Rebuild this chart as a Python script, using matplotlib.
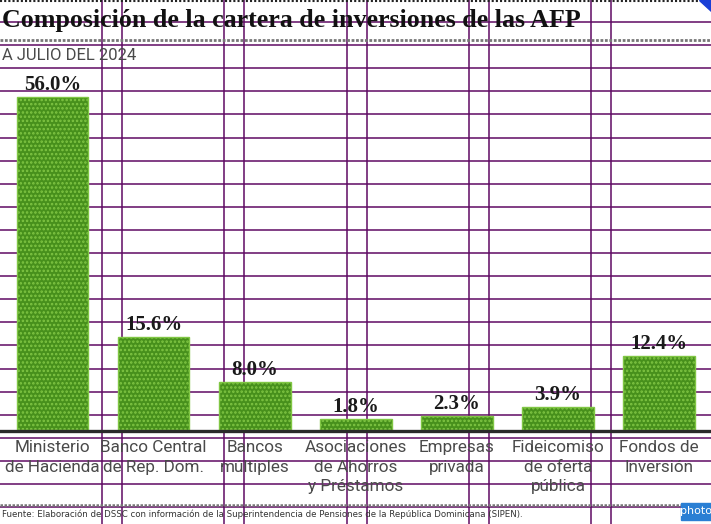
import numpy as np
import matplotlib
matplotlib.use("Agg")
import matplotlib.pyplot as plt
from matplotlib.patches import Polygon, Rectangle

# data
categorias = ["Ministerio\nde Hacienda", "Banco Central\nde Rep. Dom.", "Bancos\nmúltiples",
              "Asociaciones\nde Ahorros\ny Préstamos", "Empresas\nprivada",
              "Fideicomiso\nde oferta\npública", "Fondos de\nInversión"]
valores = [56.0, 15.6, 8.0, 1.8, 2.3, 3.9, 12.4]
titulo = "Composición de la cartera de inversiones de las AFP"
subtitulo = "A JULIO DEL 2024"
fuente = ("Fuente: Elaboración de DSSC con información de la Superintendencia de Pensiones "
          "de la República Dominicana (SIPEN).")

W, H = 711, 524
purple = "#5f0a63"
bar_green = "#47901c"
dot_green = "#80c644"
serif = ["Liberation Serif", "DejaVu Serif"]
light = ["Roboto", "DejaVu Sans"]

plt.rcParams["hatch.linewidth"] = 1.2
fig = plt.figure(figsize=(W / 100, H / 100), dpi=100)

def px_axes(left, top, width, height, z):
    ax = fig.add_axes([left / W, (H - top - height) / H, width / W, height / H], zorder=z)
    return ax

# background page with purple grid
bg = px_axes(0, 0, W, H, 0)
bg.set_xlim(0, W)
bg.set_ylim(H, 0)
bg.axis("off")
for k in range(22):
    y = 22 + 23.1 * k
    bg.axhline(y, color=purple, lw=1.1, zorder=1)
for x0 in [102, 224, 347, 469, 591]:
    bg.axvline(x0, color=purple, lw=1.1, zorder=1)
    bg.axvline(x0 + 20, color=purple, lw=1.1, zorder=1)

bg.plot([0, W], [0.8, 0.8], color="#222222", lw=1.5, ls=(0, (1, 1)), zorder=2)
bg.plot([0, W], [39.5, 39.5], color="#777777", lw=2, ls=(0, (1, 0.6)), zorder=2)
bg.plot([0, W], [505, 505], color="#777777", lw=1.8, ls=(0, (1, 0.6)), zorder=2)

bg.text(2, 21, titulo, fontsize=18.7, fontweight="bold", family=serif,
        color="#111111", va="center", ha="left", zorder=3)
bg.text(2, 56, subtitulo, fontsize=12, fontweight="normal", family=light,
        color="#4a4a4a", va="center", ha="left", zorder=3)
bg.text(2, 514, fuente, fontsize=6.2, family=["DejaVu Sans"], color="#333333",
        va="center", ha="left", zorder=3)

bg.add_patch(Polygon([[699, 0], [711, 0], [711, 11]], closed=True, color="#1a3fd6", zorder=4))
bg.add_patch(Rectangle((681, 503), 30, 17, color="#2a7fd4", zorder=4))
bg.text(696, 511.5, "photo", fontsize=8, color="white", ha="center", va="center",
        family=["DejaVu Sans"], zorder=5)

# bars
ax = px_axes(2, 430 - 60 * 5.946, 707.5, 60 * 5.946, 1)
ax.patch.set_visible(False)
x = np.arange(len(valores))
bars = ax.bar(x, valores, width=0.71, color=bar_green, edgecolor=dot_green,
              hatch="....", linewidth=1)
ax.set_xlim(-0.5, 6.5)
ax.set_ylim(0, 60)
for xi, v in zip(x, valores):
    ax.annotate(f"{v:.1f}%", (xi, v), xytext=(0, 5), textcoords="offset points",
                ha="center", va="baseline", fontsize=15, fontweight="bold",
                family=serif, color="#1a1a1a")
ax.set_xticks(x)
ax.set_xticklabels(categorias, fontsize=12.3, fontweight="normal", family=light,
                   color="#4a4a4a", linespacing=1.4, va="top")
ax.tick_params(axis="x", length=0, pad=7)
ax.set_yticks([])
for s in ax.spines.values():
    s.set_visible(False)

# baseline on top
ov = px_axes(0, 0, W, H, 2)
ov.set_xlim(0, W)
ov.set_ylim(H, 0)
ov.axis("off")
ov.plot([0, W], [431, 431], color="#2a2a2a", lw=2.4, zorder=3)

fig.savefig("out.png", dpi=100)
